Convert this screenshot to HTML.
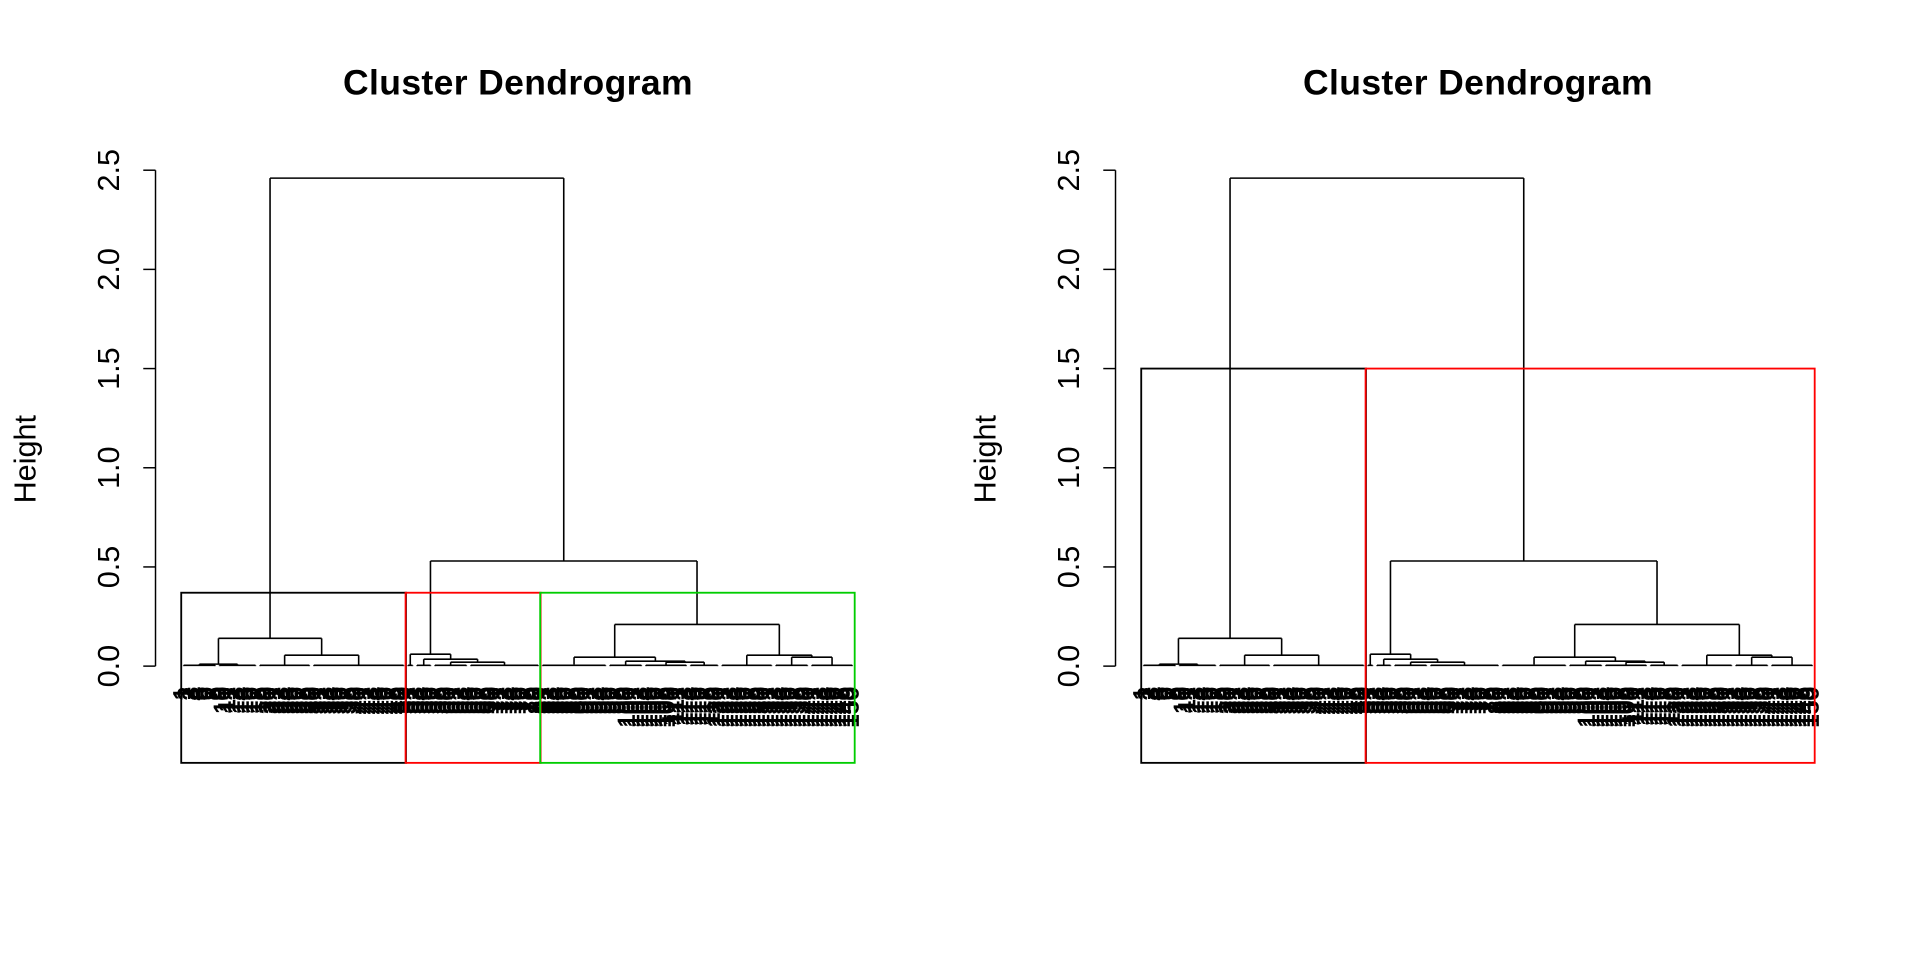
<!DOCTYPE html>
<html><head><meta charset="utf-8">
<style>
html,body{margin:0;padding:0;background:#fff;}
svg{display:block;font-family:"Liberation Sans",Arial,sans-serif;}
</style></head>
<body>
<svg id="chart" width="1920" height="960" viewBox="0 0 1568 784" xmlns="http://www.w3.org/2000/svg"></svg>
<script>
// Tree: [height, left, right] or leaf-group size (leaves merged at ~0)
const treeData = [2.46,
  [0.14, [0.01, 8, 9], [0.055, 12, 21]],
  [0.53,
    [0.06, 2, [0.035, 4, [0.02, 8, 16]]],
    [0.21,
      [0.045, [0.01, 15], [0.025, 8, [0.02, 10, 7]]],
      [0.055, 12, [0.045, 8, 10]]]]];
const yTicks = [0, 0.5, 1, 1.5, 2, 2.5];
const cutLeft = 0.37;   // 3 clusters
const cutRight = 1.5;   // 2 clusters
const leafLabels = [];
for (let i = 1; i <= 150; i++) leafLabels.push(String(i));

const NS = "http://www.w3.org/2000/svg";
const svg = document.getElementById('chart');
function mk(tag, attrs, parent) {
  const e = document.createElementNS(NS, tag);
  for (const k in attrs) e.setAttribute(k, attrs[k]);
  (parent || svg).appendChild(e);
  return e;
}
const NLEAF = 150;
function yS(h) { return 544 - h * 162; }

function drawPanel(off, cut, colors, pname) {
  const g = mk('g', {});
  
  
  const xL = i => off + 150 + i * (546 / (NLEAF - 1));
  const t = mk('text', {x: off + 423, y: 77, 'text-anchor': 'middle', 'font-size': 29, 'font-weight': 'bold', 'letter-spacing': 0.3}, g);
  t.textContent = 'Cluster Dendrogram';
  
  
  const ax = mk('g', {}, g);
  
  
  mk('line', {x1: off + 127, x2: off + 127, y1: yS(0), y2: yS(2.5), stroke: '#000', 'stroke-width': 1.2}, ax);
  yTicks.forEach(v => {
    mk('line', {x1: off + 117, x2: off + 127, y1: yS(v), y2: yS(v), stroke: '#000', 'stroke-width': 1.2}, ax);
    const tx = mk('text', {x: 0, y: 0, 'font-size': 25, 'text-anchor': 'middle',
      transform: `translate(${off + 97},${yS(v)}) rotate(-90)`}, ax);
    tx.textContent = v.toFixed(1);
    
    
  });
  const yl = mk('text', {x: 0, y: 0, 'font-size': 25, 'text-anchor': 'middle',
    transform: `translate(${off + 29},${375}) rotate(-90)`}, g);
  yl.textContent = 'Height';
  
  

  const lines = mk('g', {stroke: '#000', 'stroke-width': 1.3, fill: 'none'}, g);
  
  
  let idx = 0;
  const groups = [];
  function draw(node) {
    if (typeof node === 'number') {
      const a = idx, b = idx + node - 1; idx += node;
      const h = 0.004;
      const xa = xL(a), xb = xL(b);
      mk('line', {x1: xa, x2: xb, y1: yS(h), y2: yS(h)}, lines);
      mk('line', {x1: xa, x2: xa, y1: yS(h), y2: yS(0)}, lines);
      mk('line', {x1: xb, x2: xb, y1: yS(h), y2: yS(0)}, lines);
      return {x: (xa + xb) / 2, h: h, a: a, b: b};
    }
    const kids = node.slice(1).map(draw);
    const h = node[0];
    const first = kids[0], last = kids[kids.length - 1];
    if (kids.length === 1) {
      mk('line', {x1: first.x, x2: first.x, y1: yS(h), y2: yS(first.h)}, lines);
      return {x: first.x, h: h, a: first.a, b: first.b};
    }
    kids.forEach(k => mk('line', {x1: k.x, x2: k.x, y1: yS(h), y2: yS(k.h)}, lines));
    mk('line', {x1: first.x, x2: last.x, y1: yS(h), y2: yS(h)}, lines);
    return {x: (first.x + last.x) / 2, h: h, a: first.a, b: last.b, kids: kids};
  }
  const root = draw(treeData);
  function collect(n) {
    if (n.h < cut || !n.kids) { groups.push(n); return; }
    n.kids.forEach(collect);
  }
  collect(root);
  const lg = mk('g', {'font-size': 20, stroke: '#000', 'stroke-width': 0.6}, g);
  
  
  leafLabels.forEach((lab, i) => {
    const tx = mk('text', {x: 0, y: 0, 'text-anchor': 'end', 'dominant-baseline': 'middle',
      transform: `translate(${xL(i)},${561}) rotate(-90)`}, lg);
    tx.textContent = lab;
    
    
  });
  groups.forEach((c, k) => {
    const x1 = xL(c.a) - 2, x2 = xL(c.b) + 2;
    const r = mk('rect', {x: x1, y: yS(cut), width: x2 - x1, height: 623 - yS(cut),
      fill: 'none', stroke: colors[k % colors.length], 'stroke-width': 1.5}, g);
    
    
  });
}
drawPanel(0, cutLeft, ['#000', '#ff0000', '#00cd00'], 'left-panel');
drawPanel(784, cutRight, ['#000', '#ff0000'], 'right-panel');
</script>
</body></html>
